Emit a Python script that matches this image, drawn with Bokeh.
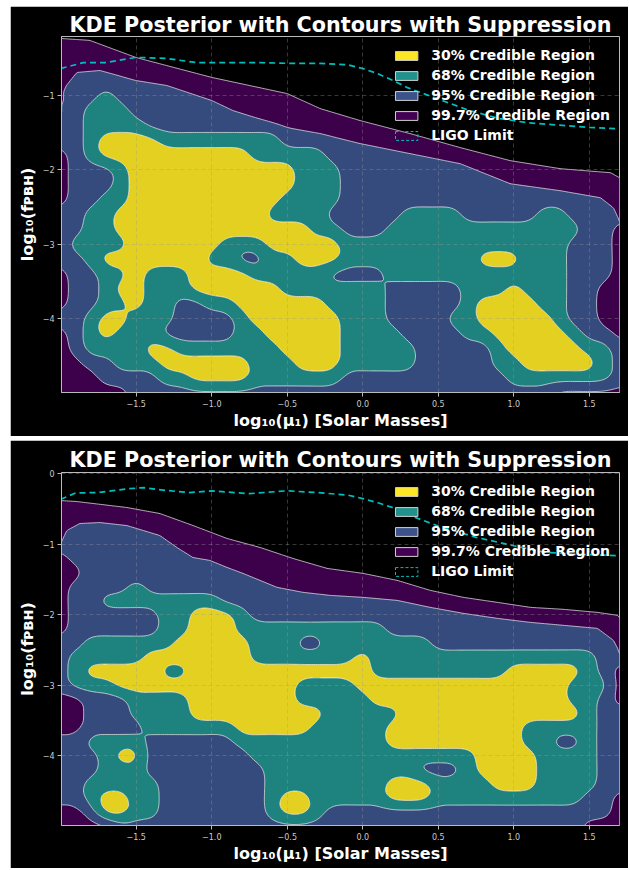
import numpy as np
from bokeh.plotting import figure
from bokeh.models import (Range1d, FixedTicker, CustomJSTickFormatter, Legend,
                          LegendItem)
from bokeh.layouts import column
from bokeh.embed import file_html
from bokeh.resources import INLINE

# ---------------------------------------------------------------- data
TITLE = "KDE Posterior with Contours with Suppression"
X_LABEL = "log\u2081\u2080(\u03bc\u2081) [Solar Masses]"
Y_LABEL = "log\u2081\u2080(f\u1d18\u0299\u029c)"
REGION_LABELS = ["30% Credible Region", "68% Credible Region",
                 "95% Credible Region", "99.7% Credible Region"]
LIGO_LABEL = "LIGO Limit"

X_TICKS = [-1.5, -1.0, -0.5, 0.0, 0.5, 1.0, 1.5]
TOP_Y_TICKS = [-4, -3, -2, -1]
BOTTOM_Y_TICKS = [-4, -3, -2, -1, 0]

# grid on which the credible-region level of the posterior was read
# (0 = outside, 1 = 99.7%, 2 = 95%, 3 = 68%, 4 = 30%)
GRID_X = [-2.0, -1.9, -1.8, -1.7, -1.6, -1.5, -1.4, -1.3, -1.2, -1.1,
          -1.0, -0.9, -0.8, -0.7, -0.6, -0.5, -0.4, -0.3, -0.2, -0.1,
          0.0, 0.1, 0.2, 0.3, 0.4, 0.5, 0.6, 0.7, 0.8, 0.9,
          1.0, 1.1, 1.2, 1.3, 1.4, 1.5, 1.6, 1.7]
TOP_GRID_Y = [-0.2, -0.4, -0.6, -0.8, -1.0, -1.2, -1.4, -1.6, -1.8, -2.0,
              -2.2, -2.4, -2.6, -2.8, -3.0, -3.2, -3.4, -3.6, -3.8, -4.0,
              -4.2, -4.4, -4.6, -4.8, -5.0]
BOTTOM_GRID_Y = [0.0, -0.2, -0.4, -0.6, -0.8, -1.0, -1.2, -1.4, -1.6, -1.8,
                 -2.0, -2.2, -2.4, -2.6, -2.8, -3.0, -3.2, -3.4, -3.6, -3.8,
                 -4.0, -4.2, -4.4, -4.6, -4.8, -5.0]

TOP_LEVELS = [
    "0000000000 0000000000 0000000000 00000000",
    "1111 0000000000 0000000000 0000000000 0000",
    "1111111 0000000000 0000000000 0000000000 0",
    "1 2222 111111 0000000000 0000000000 0000000",
    "1 22 3 222222 111111 0000000000 0000000000 00",
    "1 2 333 2222222 111111 0000000000 0000000000",
    "22 3333 222222222 111111 0000000000 0000000",
    "22 3 4444 33333333 2222 111111 0000000000 000",
    "1 2 3 4444444444 33333 222222 11111 000000000",
    "1 222 3 44444444444 333 222222222 111111 0000",
    "1 222 3 44444444444 333 22222222222 11111111",
    "1 22 33 4444444444 3333 22222222222222222 11",
    "22 33 4444444444 3333 22222 3333 22222 33 222 1",
    "22 33 4444444444444 33 222 3333333333333 22 1",
    "2 3333 444444 333 44444 333333333333333 222 1",
    "22 3 4444444 33 22 33 444 333333333 444 333 222 1",
    "1 22 33 4 333 4444 33333 2222 333333333333 222 1",
    "1 22 3 44 333 444444 3333333 22222 333 4 333 22 11",
    "1 22 33 4 33 22 33 444444 3333 22222 3 4444 33 22 11",
    "22 3 44 333 2222 3 444444 333 2222 33 44444 3 22 11",
    "1 2 3 4 333 22222 33 44444 3333 2222 33 44444 3 22 1",
    "1 2 3333 44 3333333 4444 33333 22222 3 44444 33 2",
    "11 22 333 444444 333 444 33333 22222 33 44444 3 2",
    "111 2222 33 4444 333333 22222222222 3333333 2",
    "11111 2222222222 2222222222 22222222 11111",
]

BOTTOM_LEVELS = [
    "0000000000 0000000000 0000000000 00000000",
    "0000000000 0000000000 0000000000 00000000",
    "11 0000000000 0000000000 0000000000 000000",
    "11111111 0000000000 0000000000 0000000000",
    "1 22222 1111 0000000000 0000000000 00000000",
    "1 2222222 111111 0000000000 0000000000 0000",
    "1 22222222 1111111 0000000000 0000000000 00",
    "11 2222222222 11111111 0000000000 00000000",
    "1 2222 3 222222222 111111111 0000000000 0000",
    "1 22 33333333 222222222222 11111 0000000000",
    "1 222222 33 444 3 222222222222222 111111111 0",
    "1 222222 33 444 3333333333 22222222222222 11",
    "22 333333 44444 333 22 3333333 222222222222 1",
    "2 33333 4444444 3333333 4 333333333333333 2 1",
    "2 3 44444 33 444444444444 333333333 44444 3 2 1",
    "2 333 444444444444 3333 44444444444444 333 1",
    "11 222 3333 4444444 33333 4444444444444 33 2 1",
    "11 222 3333 444444444 33333 444444444444 3 22",
    "11 2222 333333 44444 33333 444444444 33333 22",
    "22 3333 222222 3333333333 444444444 33 22 3 22",
    "222 3 44 2222222 333333333333333 4444 3333 22",
    "222 333 22222222 3333333333 222 3 4444 3333 22",
    "22 33333 2222222 33333333 444 3333 444 3333 22",
    "22 3 44 33 2222222 3 44 33333 444 3333333333 22 1",
    "11 2 44 33 2222222 3 44 3 2222222222222222222 1",
    "1111 2222222222 2222222222 22222222222 111",
]

# upper edges of the 99.7% and 95% regions, read along x
TOP_OUTER_X = [-2.0, -1.808, -1.503, -0.999, -0.501, -0.282, -0.017, 0.314,
               0.646, 0.977, 1.309, 1.641, 1.7]
TOP_OUTER_Y = [-0.236, -0.262, -0.491, -0.760, -0.976, -1.178, -1.339, -1.514,
               -1.702, -1.877, -1.985, -2.039, -2.106]
TOP_95_X = [-2.0, -1.973, -1.894, -1.741, -1.503, -1.297, -0.999, -0.859, -0.501,
            -0.282, -0.017, 0.314, 0.646, 0.977, 1.309, 1.574, 1.660, 1.7]
TOP_95_Y = [-1.272, -0.895, -0.693, -0.666, -0.801, -0.868, -1.070, -1.205, -1.433,
            -1.514, -1.648, -1.783, -1.918, -2.187, -2.281, -2.375, -2.510, -2.685]
BOTTOM_OUTER_X = [-2.0, -1.894, -1.562, -1.344, -1.125, -0.899, -0.680, -0.462,
                  -0.236, 0.003, 0.228, 0.447, 0.666, 0.891, 1.110, 1.329, 1.554,
                  1.687, 1.7]
BOTTOM_OUTER_Y = [-0.378, -0.392, -0.477, -0.562, -0.732, -0.916, -1.044, -1.200,
                  -1.341, -1.412, -1.511, -1.653, -1.752, -1.823, -1.894, -1.922,
                  -1.965, -2.007, -2.04]
BOTTOM_95_X = [-2.0, -1.960, -1.874, -1.741, -1.562, -1.344, -1.231, -1.125, -1.012,
               -0.899, -0.793, -0.568, -0.395, -0.216, 0.003, 0.228, 0.447, 0.666,
               0.891, 1.110, 1.329, 1.554, 1.660, 1.694, 1.7]
BOTTOM_95_Y = [-0.987, -0.803, -0.704, -0.690, -0.733, -0.874, -1.044, -1.186, -1.228,
               -1.327, -1.412, -1.610, -1.681, -1.724, -1.752, -1.795, -1.894, -1.979,
               -2.050, -2.107, -2.149, -2.192, -2.362, -2.503, -2.55]

TOP_LIGO_X = [-2.0, -1.85, -1.7, -1.5, -1.3, -1.1, -0.9, -0.7, -0.5, -0.3,
              -0.1, 0.0, 0.1, 0.2, 0.3, 0.5, 0.7, 0.9, 1.1, 1.3, 1.5, 1.7]
TOP_LIGO_Y = [-0.64, -0.56, -0.56, -0.49, -0.505, -0.56, -0.56, -0.56, -0.57, -0.57,
              -0.59, -0.64, -0.71, -0.80, -0.90, -1.05, -1.20, -1.31, -1.37, -1.40,
              -1.43, -1.45]
BOTTOM_LIGO_X = [-2.0, -1.9, -1.75, -1.55, -1.45, -1.3, -1.15, -1.0, -0.75, -0.5,
                 -0.3, -0.1, 0.0, 0.1, 0.2, 0.3, 0.5, 0.75, 1.0, 1.2, 1.4, 1.7]
BOTTOM_LIGO_Y = [-0.36, -0.27, -0.265, -0.21, -0.195, -0.235, -0.265, -0.24, -0.28, -0.24,
                 -0.265, -0.30, -0.35, -0.41, -0.48, -0.58, -0.74, -0.90, -1.02, -1.11,
                 -1.14, -1.16]

# ---------------------------------------------------------------- styles
FILL_COLORS = ["#3d014c", "#354a7d", "#1e837e", "#e4d021"]      # 99.7, 95, 68, 30
SWATCH_COLORS = ["#fde725", "#21918c", "#3b528b", "#440154"]    # 30, 68, 95, 99.7
LIGO_COLOR = "#00bfbf"
FONT = "DejaVu Sans"
FIG_W = 618
SIGMA = {1: 0.5, 2: 0.5, 3: 0.5, 4: 0.5}


def parse_levels(rows, ncols):
    out = []
    for r in rows:
        s = r.replace(" ", "")
        if len(s) < ncols:
            s = s + s[-1] * (ncols - len(s))
        out.append([int(c) for c in s[:ncols]])
    return np.array(out, dtype=float)


def smooth(F, s):
    R = int(np.ceil(3 * s))
    k = np.exp(-0.5 * (np.arange(-R, R + 1) / s) ** 2)
    k /= k.sum()
    P = np.pad(F, R, mode="edge")
    H, W = F.shape
    T = np.zeros((H + 2 * R, W))
    for j in range(2 * R + 1):
        T += k[j] * P[:, j:j + W]
    O = np.zeros((H, W))
    for j in range(2 * R + 1):
        O += k[j] * T[j:j + H, :]
    return O


def cr_resample(G, n_fine, axis):
    """Catmull-Rom resampling of G along one axis."""
    n = G.shape[axis]
    t = np.linspace(0, n - 1, n_fine)
    i = np.clip(np.floor(t).astype(int), 0, n - 2)
    u = t - i
    u2, u3 = u * u, u * u * u
    W = np.stack([(-u3 + 2 * u2 - u) / 2, (3 * u3 - 5 * u2 + 2) / 2,
                  (-3 * u3 + 4 * u2 + u) / 2, (u3 - u2) / 2], axis=-1)
    idx = np.stack([np.clip(i - 1, 0, n - 1), i, i + 1,
                    np.clip(i + 2, 0, n - 1)], axis=-1)
    Gm = np.moveaxis(G, axis, 0)
    out = (Gm[idx] * W[..., None]).sum(axis=1)
    return np.moveaxis(out, 0, axis)


def level_field(rows, gx, gy, edges, up=8):
    G = parse_levels(rows, len(gx))[::-1]
    gy_asc = np.array(gy[::-1], dtype=float)
    gx = np.array(gx, dtype=float)
    nx, ny = len(gx), len(gy_asc)
    dy = abs(gy_asc[1] - gy_asc[0])
    fx = np.linspace(gx[0], gx[-1], (nx - 1) * up + 1)
    fy = np.linspace(gy_asc[0], gy_asc[-1], (ny - 1) * up + 1)
    FY = fy[:, None]
    total = np.zeros((len(fy), len(fx)))
    for k in (1, 2, 3, 4):
        I = (G >= k).astype(float)
        if k in edges:
            ex, ey = edges[k]
            ecol = np.interp(gx, ex, ey)
            I[gy_asc[:, None] > ecol[None, :] - 0.5 * dy] = 1.0
        S = cr_resample(I, len(fy), 0)
        S = cr_resample(S, len(fx), 1)
        S = np.clip(smooth(S, SIGMA[k] * up), 0, 1)
        if k in edges:
            ex, ey = edges[k]
            ef = np.interp(fx, ex, ey)[None, :]
            C = np.clip(0.5 + (ef - FY) / (0.5 * dy), 0, 1)
            S = np.minimum(S, C)
        total += S
    return fx, fy, total


def make_panel(rows, grid_y, edges, y_range, y_ticks, ligo_x, ligo_y,
               height, b_top, b_bottom, title_standoff, margin):
    p = figure(width=FIG_W, height=height,
               x_range=Range1d(-1.995, 1.7), y_range=Range1d(*y_range),
               output_backend="svg", toolbar_location=None,
               min_border_left=51, min_border_right=9,
               min_border_top=b_top, min_border_bottom=b_bottom,
               background_fill_color="black", border_fill_color="black",
               outline_line_color="#bbbbbb", margin=margin)
    p.title.text = TITLE
    p.title.align = "center"
    p.title.text_font = FONT
    p.title.text_font_size = "20.7px"
    p.title.text_font_style = "bold"
    p.title.text_color = "white"
    p.title.standoff = title_standoff

    fx, fy, Z = level_field(rows, GRID_X, grid_y, edges)
    p.contour(x=fx, y=fy, z=Z, levels=[0.5, 1.5, 2.5, 3.5, 4.5],
              fill_color=FILL_COLORS, line_color="white",
              line_alpha=0.75, line_width=0.9)

    p.line(ligo_x, ligo_y, line_color=LIGO_COLOR, line_width=1.7, line_dash="6 4")

    # axes
    p.xaxis.ticker = FixedTicker(ticks=X_TICKS)
    p.yaxis.ticker = FixedTicker(ticks=y_ticks)
    p.xaxis.formatter = CustomJSTickFormatter(
        code="return tick.toFixed(1).replace('-', '\\u2212');")
    p.yaxis.formatter = CustomJSTickFormatter(
        code="return tick.toFixed(0).replace('-', '\\u2212');")
    for ax in (p.xaxis[0], p.yaxis[0]):
        ax.axis_line_color = "#bbbbbb"
        ax.major_tick_line_color = "#bbbbbb"
        ax.major_tick_out = 4
        ax.major_tick_in = 0
        ax.minor_tick_line_color = None
        ax.major_label_text_color = "#cccccc"
        ax.major_label_text_font = FONT
        ax.major_label_text_font_size = "8px"
        ax.major_label_standoff = 3
        ax.axis_label_text_font = FONT
        ax.axis_label_text_font_size = "16px"
        ax.axis_label_text_font_style = "bold"
        ax.axis_label_text_color = "white"
    p.xaxis.axis_label = X_LABEL
    p.xaxis.axis_label_standoff = 1
    p.yaxis.axis_label = Y_LABEL
    p.yaxis.axis_label_standoff = 3

    p.grid.grid_line_color = "#9a9a9a"
    p.grid.grid_line_alpha = 0.45
    p.grid.grid_line_dash = "4 3"
    p.grid.grid_line_width = 0.8
    p.grid.level = "guide"

    # legend (proxy renderers hold no visible data)
    items = []
    for lab, col in zip(REGION_LABELS, SWATCH_COLORS):
        r = p.quad(left=[np.nan], right=[np.nan], top=[np.nan], bottom=[np.nan],
                   fill_color=col, line_color="#d0d0d0", line_width=1)
        items.append(LegendItem(label=lab, renderers=[r]))
    r_l = p.quad(left=[np.nan], right=[np.nan], top=[np.nan], bottom=[np.nan],
                 fill_alpha=0, line_color=LIGO_COLOR, line_dash="3 2", line_width=1)
    items.append(LegendItem(label=LIGO_LABEL, renderers=[r_l]))
    leg = Legend(items=items, location="top_right",
                 label_text_font=FONT, label_text_font_size="14px",
                 label_text_font_style="bold", label_text_color="white",
                 background_fill_alpha=0, border_line_alpha=0,
                 glyph_width=28, glyph_height=11, label_standoff=11,
                 spacing=0, padding=4, margin=5, label_height=20)
    p.add_layout(leg)
    return p


TOP_EDGES = {1: (TOP_OUTER_X, TOP_OUTER_Y), 2: (TOP_95_X, TOP_95_Y)}
BOTTOM_EDGES = {1: (BOTTOM_OUTER_X, BOTTOM_OUTER_Y), 2: (BOTTOM_95_X, BOTTOM_95_Y)}

p1 = make_panel(TOP_LEVELS, TOP_GRID_Y, TOP_EDGES, (-4.99, -0.21), TOP_Y_TICKS,
                TOP_LIGO_X, TOP_LIGO_Y, 430, 30, 44, 0, (6, 0, 0, 10))
p2 = make_panel(BOTTOM_LEVELS, BOTTOM_GRID_Y, BOTTOM_EDGES, (-4.99, 0.02),
                BOTTOM_Y_TICKS, BOTTOM_LIGO_X, BOTTOM_LIGO_Y,
                428, 32, 43, 2, (0, 0, 0, 10))

layout = column(p1, p2, spacing=4)
open("out.html", "w").write(file_html(layout, INLINE))
